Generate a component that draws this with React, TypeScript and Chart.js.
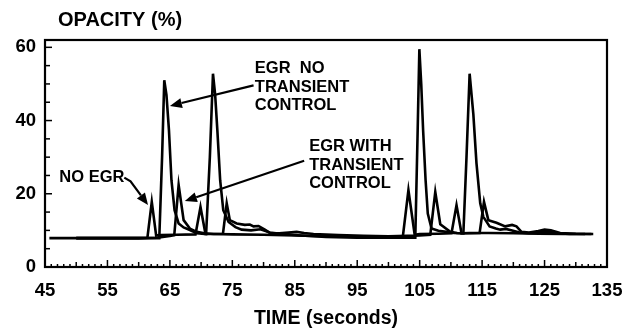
import React, { useEffect, useRef } from "react";
import { Chart, registerables } from "chart.js";

Chart.register(...registerables);

// ---- data ----
const xTickValues = [45, 55, 65, 75, 85, 95, 105, 115, 125, 135];
const yTickValues = [0, 20, 40, 60];

const noEgrTime = [45.7, 50, 55, 60, 61.4, 62.1, 62.8, 63.5, 66, 69.1, 69.9, 70.7, 72, 75, 80, 85, 90, 95, 100, 102.3, 103.2, 104.2, 105, 108, 110.1, 110.9, 111.7, 113, 116, 120, 124, 128, 131.5];
const noEgrOpacity = [7.9, 7.9, 7.9, 7.9, 8.0, 17.8, 8.6, 8.7, 8.8, 8.9, 16.4, 9.0, 9.0, 8.9, 8.8, 8.6, 8.4, 8.2, 8.1, 8.2, 21.0, 8.8, 9.0, 9.1, 9.2, 16.9, 9.2, 9.3, 9.3, 9.2, 9.1, 9.0, 9.0];

const egrNoTcTime = [50, 55, 60, 63.3, 63.75, 64.1, 64.45, 64.85, 65.25, 65.75, 66.4, 67.2, 68.2, 69.3, 70.8, 71.4, 71.9, 72.25, 72.6, 73.05, 73.55, 74.4, 75.5, 76.5, 78, 79.5, 81, 83, 86, 90, 95, 100, 104.3, 104.65, 104.95, 105.25, 105.55, 105.95, 106.3, 106.9, 108, 109.3, 110.5, 112.0, 112.5, 113.0, 113.6, 114.1, 114.7, 115.2, 116.2, 117.2, 117.9, 118.8, 119.8, 121.0, 122.5, 124, 125.5, 127, 129, 132.8];
const egrNoTcOpacity = [7.9, 7.9, 7.9, 7.9, 30, 51.0, 47, 37.4, 23.7, 15.5, 11.9, 10.8, 10.1, 9.2, 9.0, 30, 52.8, 47, 37.4, 23.7, 15.5, 12.3, 10.9, 10.2, 10.0, 10.3, 9.4, 9.0, 8.6, 8.2, 8.0, 8.0, 8.0, 35, 59.5, 50, 37.4, 23.7, 14.6, 10.5, 9.9, 9.6, 9.3, 9.2, 30, 52.8, 41.6, 28.3, 17.4, 13.7, 11.1, 10.5, 10.2, 10.4, 10.0, 9.4, 9.2, 9.4, 9.6, 9.2, 9.0, 9.0];

const egrWithTcTime = [50, 55, 60, 63, 65.0, 65.7, 66.4, 67.2, 68.2, 69.3, 70.5, 72, 73.5, 74.1, 74.6, 75.7, 77.0, 77.8, 78.4, 79.2, 80.2, 81, 82.5, 84, 85.3, 86.5, 88, 92, 96, 100, 103, 105, 106.7, 107.5, 108.3, 109.9, 111, 113, 114.6, 115.3, 116.0, 117.3, 118.7, 119.8, 120.5, 121.3, 122.5, 124, 125, 126, 127.5, 130, 132.5];
const egrWithTcOpacity = [7.9, 7.9, 7.9, 8.0, 8.5, 8.7, 22.4, 12.8, 10.5, 9.6, 9.2, 9.0, 9.1, 17.4, 12.8, 11.9, 11.5, 11.6, 11.1, 11.2, 10.2, 9.3, 9.2, 9.4, 9.6, 9.3, 9.0, 8.7, 8.5, 8.4, 8.5, 8.6, 8.8, 20.5, 11.7, 9.6, 9.3, 9.2, 9.3, 17.8, 12.8, 12.1, 11.1, 11.5, 11.1, 9.6, 9.4, 9.8, 10.2, 10.0, 9.3, 9.1, 9.0];

const seriesNames = ["NO EGR", "EGR NO TRANSIENT CONTROL", "EGR WITH TRANSIENT CONTROL"];

const yTitle = "OPACITY (%)";
const xTitle = "TIME (seconds)";

// callouts: text lines, text anchor (time, opacity), arrow path (time, opacity) ending at the tip
const callouts = [
  { lines: ["EGR  NO", "TRANSIENT", "CONTROL"], at: [78.6, 54.1], path: [[78.4, 49.6], [65.0, 44.0]] },
  { lines: ["EGR WITH", "TRANSIENT", "CONTROL"], at: [87.3, 32.8], path: [[86.5, 29.0], [67.4, 18.0]] },
  { lines: ["NO EGR"], at: [47.3, 24.4], path: [[57.7, 24.4], [58.7, 23.4], [61.5, 16.9]] },
];

const FONT = '"Liberation Sans", Arial, Helvetica, sans-serif';

export default function App() {
  const ref = useRef<HTMLCanvasElement>(null);

  useEffect(() => {
    const canvas = ref.current;
    if (!canvas) return;
    const pts = (t: number[], v: number[]) => t.map((x, i) => ({ x, y: v[i] }));

    const framePlugin = {
      id: "frameAndNotes",
      afterDatasetsDraw(chart: any) {
        const { ctx, chartArea: a, scales } = chart;
        const xs = scales.x;
        const ys = scales.y;
        ctx.save();
        ctx.strokeStyle = "#000";
        ctx.fillStyle = "#000";
        ctx.lineWidth = 2.2;
        ctx.strokeRect(a.left, a.top, a.right - a.left, a.bottom - a.top);
        // inward x ticks
        ctx.lineWidth = 1.5;
        for (let t = 46; t < 135; t++) {
          const px = xs.getPixelForValue(t);
          const len = t % 10 === 5 ? 7 : t % 5 === 0 ? 5 : 3;
          ctx.beginPath();
          ctx.moveTo(px, a.bottom);
          ctx.lineTo(px, a.bottom - len);
          ctx.stroke();
        }
        // inward y ticks
        for (let v = 5; v < 61; v += 5) {
          const py = ys.getPixelForValue(v);
          const len = v % 20 === 0 ? 7 : 5;
          ctx.beginPath();
          ctx.moveTo(a.left, py);
          ctx.lineTo(a.left + len, py);
          ctx.stroke();
        }
        // y title
        ctx.font = `bold 20px ${FONT}`;
        ctx.textAlign = "left";
        ctx.textBaseline = "middle";
        ctx.fillText(yTitle, a.left + 13, 20);
        // callouts
        ctx.font = `bold 16.5px ${FONT}`;
        for (const c of callouts) {
          const tx = xs.getPixelForValue(c.at[0]);
          const ty = ys.getPixelForValue(c.at[1]);
          c.lines.forEach((line, i) => ctx.fillText(line, tx, ty + i * 18.5));
          const p = c.path.map(([t, v]) => [xs.getPixelForValue(t), ys.getPixelForValue(v)]);
          const [x0, y0] = p[p.length - 2];
          const [x1, y1] = p[p.length - 1];
          const ang = Math.atan2(y1 - y0, x1 - x0);
          const L = 12;
          const W = 5;
          const bx = x1 - L * Math.cos(ang);
          const by = y1 - L * Math.sin(ang);
          ctx.lineWidth = 2.2;
          ctx.beginPath();
          ctx.moveTo(p[0][0], p[0][1]);
          for (let i = 1; i < p.length - 1; i++) ctx.lineTo(p[i][0], p[i][1]);
          ctx.lineTo(bx, by);
          ctx.stroke();
          ctx.beginPath();
          ctx.moveTo(x1, y1);
          ctx.lineTo(bx + W * Math.sin(ang), by - W * Math.cos(ang));
          ctx.lineTo(bx - W * Math.sin(ang), by + W * Math.cos(ang));
          ctx.closePath();
          ctx.fill();
        }
        ctx.restore();
      },
    };

    const lineStyle = {
      borderColor: "#000",
      borderWidth: 2.6,
      pointRadius: 0,
      tension: 0,
      fill: false,
    };

    const chart = new Chart(canvas, {
      type: "line",
      data: {
        datasets: [
          { label: seriesNames[0], data: pts(noEgrTime, noEgrOpacity), ...lineStyle },
          { label: seriesNames[1], data: pts(egrNoTcTime, egrNoTcOpacity), ...lineStyle },
          { label: seriesNames[2], data: pts(egrWithTcTime, egrWithTcOpacity), ...lineStyle },
        ],
      },
      options: {
        responsive: false,
        animation: false,
        devicePixelRatio: 1,
        layout: { padding: { top: 40, right: 36, left: 0, bottom: 0 } },
        plugins: { legend: { display: false }, tooltip: { enabled: false } },
        scales: {
          x: {
            type: "linear",
            min: 45,
            max: 135,
            grid: { display: false, drawTicks: false },
            border: { display: false },
            afterBuildTicks: (s: any) => {
              s.ticks = xTickValues.map((value) => ({ value }));
            },
            afterFit: (s: any) => {
              s.height = 69;
            },
            ticks: {
              autoSkip: false,
              maxRotation: 0,
              padding: 13,
              color: "#000",
              font: { family: FONT, size: 18.5, weight: "bold" },
              callback: (v: any) => String(v),
            },
            title: {
              display: true,
              text: xTitle,
              color: "#000",
              font: { family: FONT, size: 19.5, weight: "bold" },
              padding: { top: 0, bottom: 6 },
            },
          },
          y: {
            type: "linear",
            min: 0,
            max: 62,
            grid: { display: false, drawTicks: false },
            border: { display: false },
            afterBuildTicks: (s: any) => {
              s.ticks = yTickValues.map((value) => ({ value }));
            },
            afterFit: (s: any) => {
              s.width = 45;
            },
            ticks: {
              padding: 9,
              color: "#000",
              font: { family: FONT, size: 18.5, weight: "bold" },
              callback: (v: any) => String(v),
            },
          },
        },
      },
      plugins: [framePlugin],
    });
    return () => chart.destroy();
  }, []);

  return (
    <div style={{ position: "absolute", left: 0, top: 0, width: 643, height: 336, background: "#fff" }}>
      <canvas ref={ref} width={643} height={336} style={{ display: "block" }} />
    </div>
  );
}
